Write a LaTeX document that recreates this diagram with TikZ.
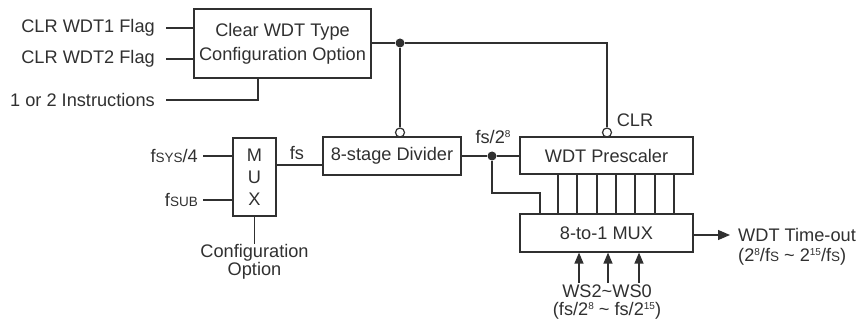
\documentclass[tikz,border=0pt]{standalone}
\usepackage{fontspec}
\setmainfont{Liberation Sans}
\usetikzlibrary{arrows.meta}
\definecolor{ink}{HTML}{303030}
\newcommand{\smc}[1]{{\fontsize{13.5pt}{13.5pt}\selectfont #1}}
\newcommand{\spr}[1]{\raisebox{0.6ex}{\fontsize{10pt}{10pt}\selectfont #1}}
\begin{document}
\begin{tikzpicture}[x=1pt,y=-1pt,
  every node/.style={text=ink},
  txt/.style={font=\fontsize{18.2pt}{18pt}\selectfont, inner sep=0pt},
  blk/.style={draw=ink, line width=1.2pt, inner sep=0pt, align=center,
    font=\fontsize{18.2pt}{24pt}\selectfont},
  wire/.style={draw=ink, line width=1.2pt},
  dotj/.style={circle, fill=ink, inner sep=0pt, minimum size=9pt},
  bub/.style={circle, draw=ink, fill=white, line width=1.2pt, inner sep=0pt, minimum size=9pt},
  arr/.style={wire, -{Triangle[length=12pt,width=10pt]}}
]
\useasboundingbox (0,0) rectangle (862,320);

% Clear WDT block
\node[blk, minimum width=177pt, minimum height=69pt] (clr) at (282.5,43.5) {Clear WDT Type\\Configuration Option};
\node[txt, anchor=east] (t1) at (155,28) {CLR WDT1 Flag};
\node[txt, anchor=east] (t2) at (155,59) {CLR WDT2 Flag};
\node[txt, anchor=east] (t3) at (155,100) {1 or 2 Instructions};
\draw[wire] ([xshift=11pt]t1.east) -- (t1.east -| clr.west);
\draw[wire] ([xshift=11pt]t2.east) -- (t2.east -| clr.west);
\draw[wire] ([xshift=11pt]t3.east) -| ([xshift=-24.5pt]clr.south);

% MUX
\node[blk, minimum width=43pt, minimum height=78pt, font=\fontsize{18.2pt}{22pt}\selectfont] (mux) at (254.5,177) {M\\U\\X};
\node[txt, anchor=east] (fsys) at (198,156) {f\smc{SYS}/4};
\node[txt, anchor=east] (fsub) at (198,200) {f\smc{SUB}};
\draw[wire] ([xshift=5pt]fsys.east) -- (fsys.east -| mux.west);
\draw[wire] ([xshift=5pt]fsub.east) -- (fsub.east -| mux.west);
\node[txt, align=center, anchor=north, font=\fontsize{18.2pt}{18pt}\selectfont] (cfg) at (254.5,244) {Configuration\\Option};
\draw[wire] (mux.south) -- (cfg.north);

% Divider
\node[blk, minimum width=138pt, minimum height=38pt] (div) at (392,156) {8-stage Divider};
\coordinate (fsy) at (276,165);
\draw[wire] (fsy -| mux.east) -- (fsy -| div.west);
\node[txt] (fsl) at (297,153) {fs};

% Prescaler and 8-to-1 MUX
\node[blk, minimum width=173pt, minimum height=37pt] (pre) at (606.5,155.5) {WDT Prescaler};
\node[blk, minimum width=173pt, minimum height=38pt] (m8) at (606.5,233) {8-to-1 MUX};

% bubbles
\node[bub] (bd) at (400,132.5) {};
\node[bub] (bp) at (607,132.5) {};

% junctions
\node[dotj] (j1) at (400,43) {};
\node[dotj] (j2) at (492,156) {};

\draw[wire] (clr.east |- j1) -- (j1) -- (j1 -| bp) -- (bp.north);
\draw[wire] (j1) -- (bd.north);
\draw[wire] (div.east |- j2) -- (j2) -- (j2 -| pre.west);
\coordinate (k1) at (540,193);
\draw[wire] (j2) |- (k1) -- (k1 |- m8.north);
\foreach \x in {558,577,597,616,635,655,674}
  \draw[wire] (\x,0 |- pre.south) -- (\x,0 |- m8.north);

\node[txt] (f28) at (493,137) {fs/2\spr{8}};
\node[txt] (clrl) at (635,120) {CLR};

% output
\coordinate (oe) at (730,235);
\draw[arr] (m8.east |- oe) -- (oe);
\node[txt, anchor=west] (wto) at (738,235) {WDT Time-out};
\node[txt, anchor=west] (wtr) at (738,257) {(2\spr{8}/f\smc{S} \textasciitilde{} 2\spr{15}/f\smc{S})};

% WS inputs
\node[txt] (ws) at (607,291) {WS2\textasciitilde WS0};
\node[txt] (wsr) at (607,311) {(fs/2\spr{8} \textasciitilde{} fs/2\spr{15})};
\foreach \x in {579,608,639}
  \draw[wire, -{Triangle[length=11pt,width=9pt]}] (\x,283) -- (\x,0 |- m8.south);
\end{tikzpicture}
\end{document}
